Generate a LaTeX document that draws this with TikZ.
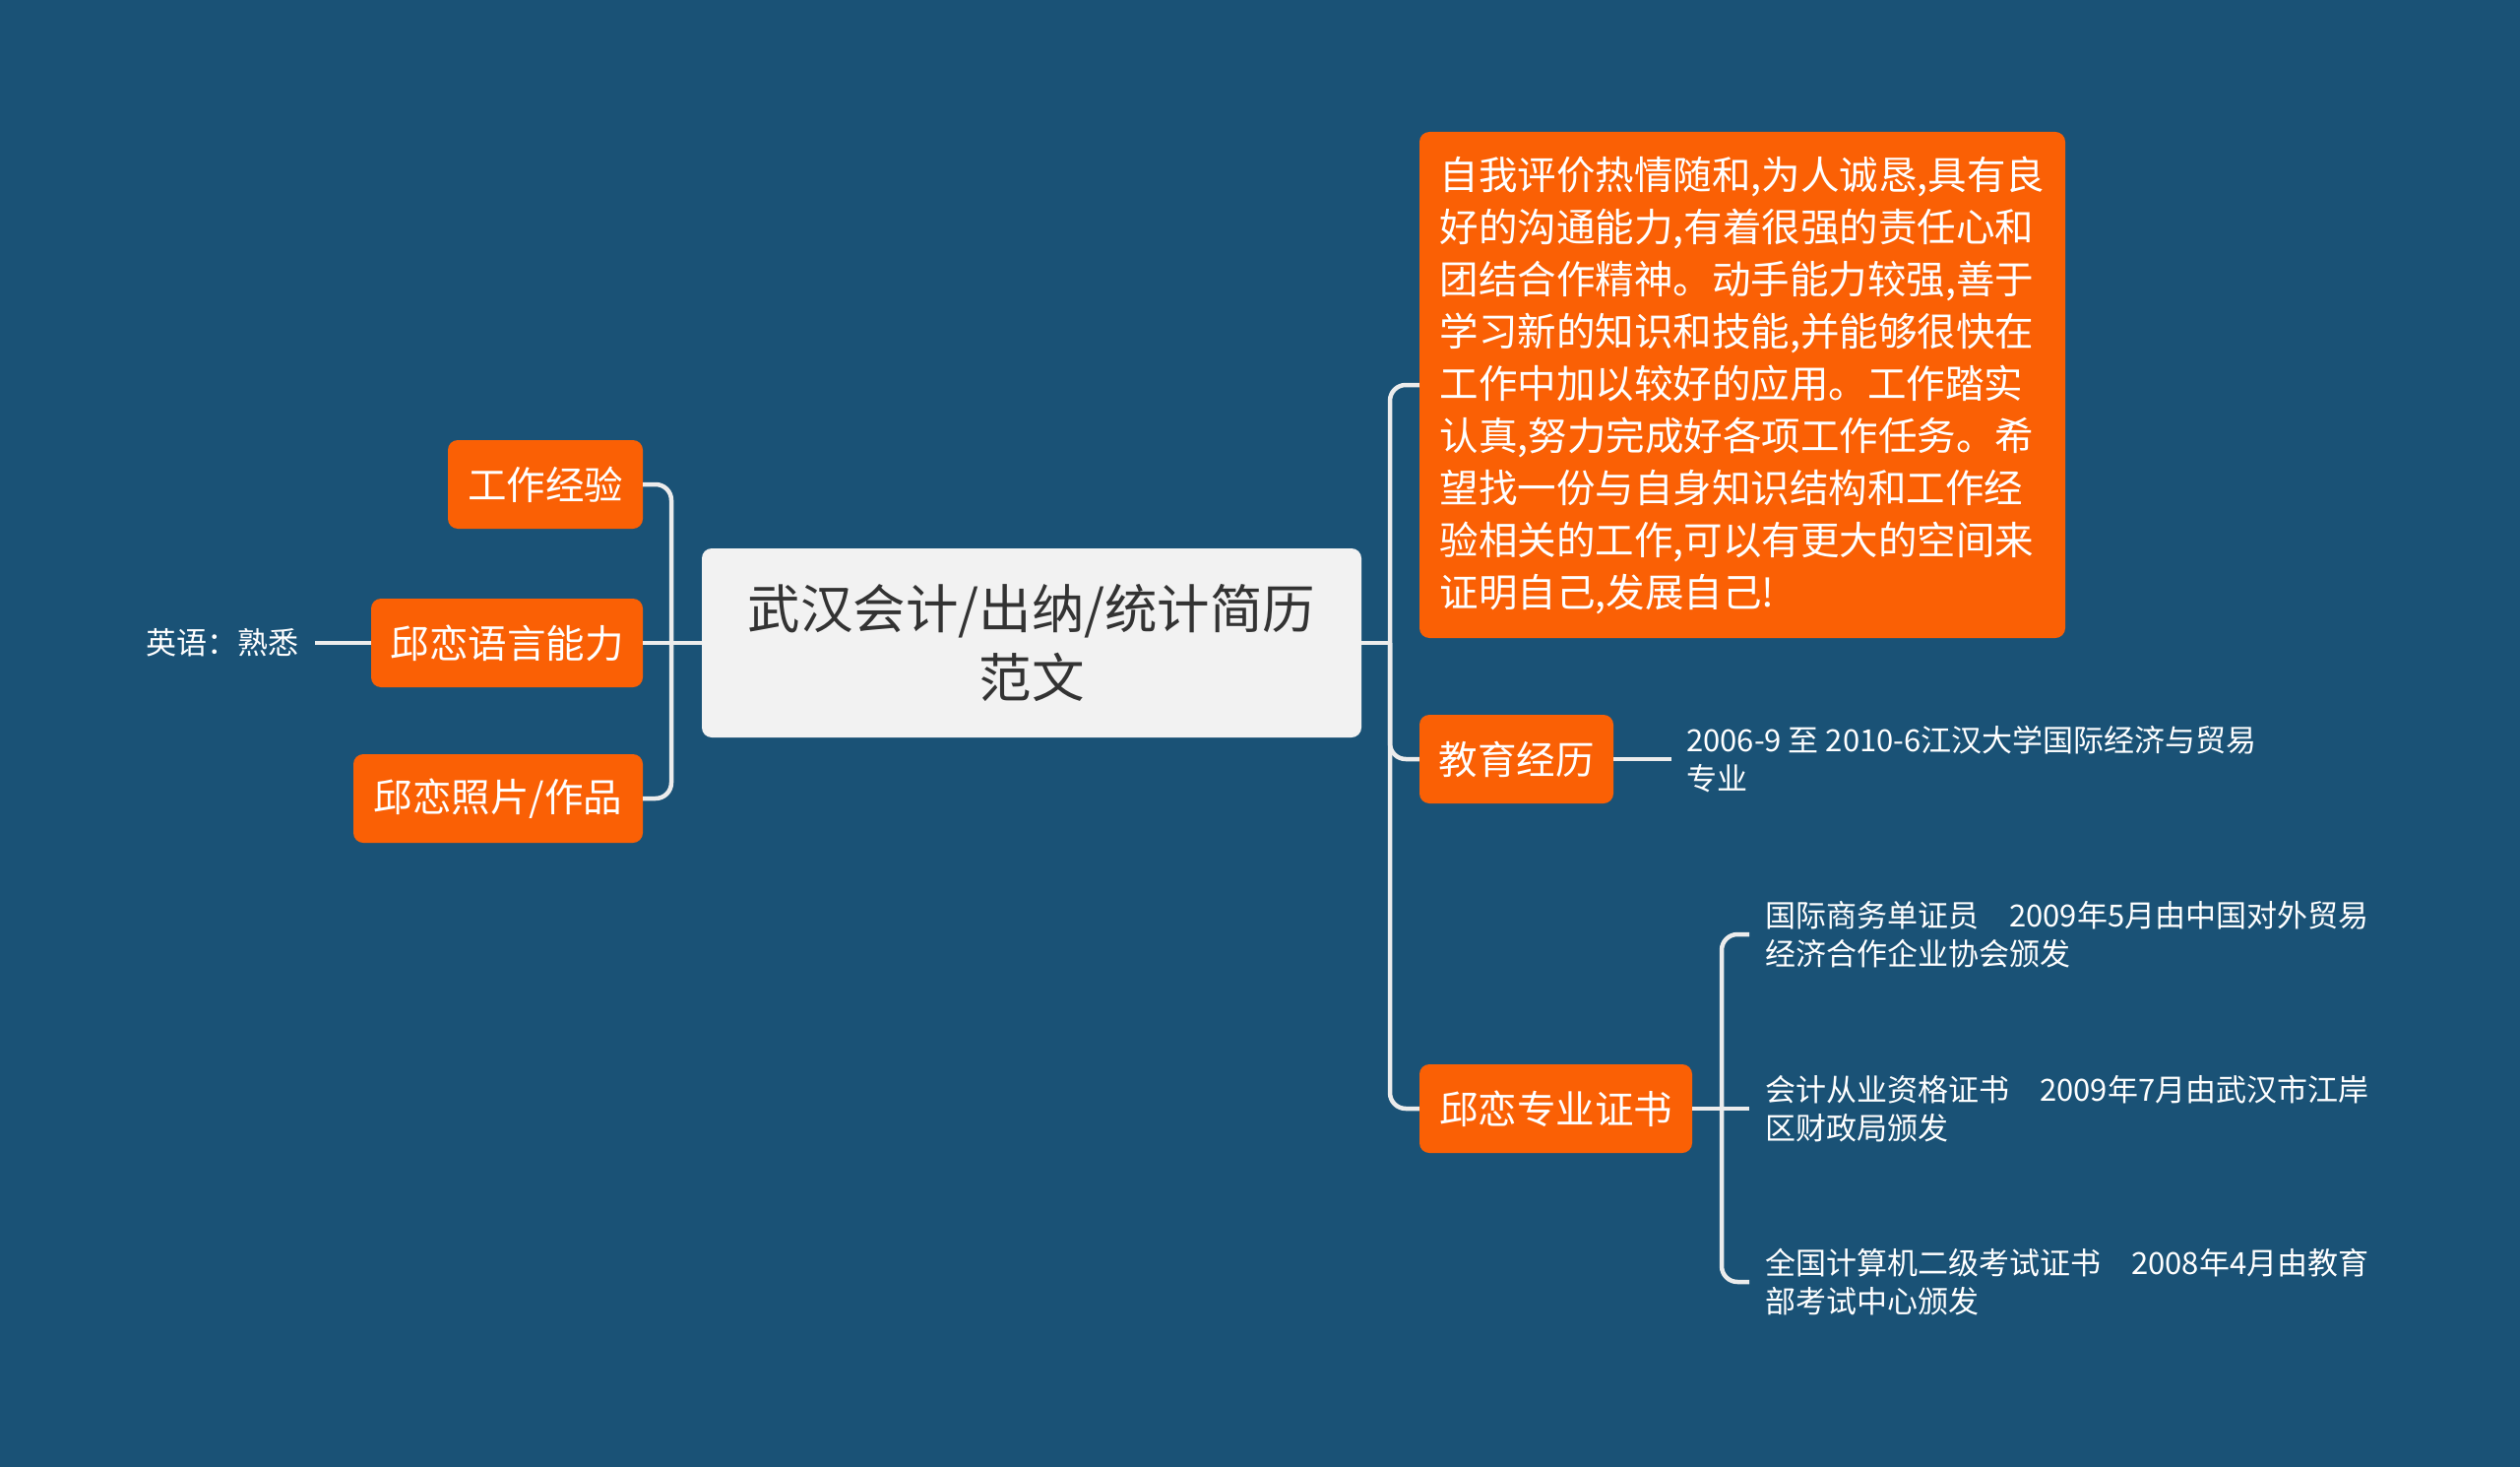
\documentclass[tikz,border=0pt]{standalone}
\usepackage{fontspec}
\setmainfont{Noto Sans CJK SC}
\definecolor{bg}{RGB}{26,82,118}
\definecolor{orng}{RGB}{250,96,5}
\definecolor{rootfill}{RGB}{242,242,242}
\definecolor{roottext}{RGB}{51,51,51}
\definecolor{linec}{RGB}{236,236,236}
\begin{document}
\begin{tikzpicture}[x=1pt,y=-1pt,
  obox/.style={fill=orng, rounded corners=10pt, text=white, font=\fontsize{39.5}{53}\selectfont, minimum height=90pt, inner sep=0pt, align=center},
  rootbox/.style={fill=rootfill, rounded corners=10pt, text=roottext, font=\fontsize{53.5}{70}\selectfont, minimum width=670pt, minimum height=192pt, inner sep=0pt, align=center},
  leaf/.style={text=white, font=\fontsize{31}{39}\selectfont, align=left, inner ysep=0pt, inner xsep=16pt},
  conn/.style={draw=linec, line width=4.5pt},
  rconn/.style={conn, rounded corners=16pt}]
\useasboundingbox[fill=bg] (0,0) rectangle (2560,1490);

% nodes
\node[rootbox] (root) at (1048,653) {武汉会计/出纳/统计简历\\范文};

\node[obox, minimum width=198pt] (work) at (554,492) {工作经验};
\node[obox, minimum width=276pt] (lang) at (515,653) {邱恋语言能力};
\node[obox, minimum width=294pt] (photo) at (506,811) {邱恋照片/作品};
\node[leaf, anchor=east] (eng) at (320,653) {英语：熟悉};

\node[obox, minimum width=656pt, minimum height=514pt, align=left] (self) at (1770,391) {自我评价热情随和,为人诚恳,具有良\\好的沟通能力,有着很强的责任心和\\团结合作精神。动手能力较强,善于\\学习新的知识和技能,并能够很快在\\工作中加以较好的应用。工作踏实\\认真,努力完成好各项工作任务。希\\望找一份与自身知识结构和工作经\\验相关的工作,可以有更大的空间来\\证明自己,发展自己!};
\node[obox, minimum width=197pt] (edu) at (1540.5,771) {教育经历};
\node[obox, minimum width=277pt] (cert) at (1580.5,1126) {邱恋专业证书};

\node[leaf, anchor=west, inner xsep=15pt] (edut) at (1698,771) {2006-9 至 2010-6江汉大学国际经济与贸易\\专业};
\node[leaf, anchor=west] (c1) at (1777,949) {国际商务单证员　2009年5月由中国对外贸易\\经济合作企业协会颁发};
\node[leaf, anchor=west] (c2) at (1777,1126) {会计从业资格证书　2009年7月由武汉市江岸\\区财政局颁发};
\node[leaf, anchor=west] (c3) at (1777,1302) {全国计算机二级考试证书　2008年4月由教育\\部考试中心颁发};

% junction coordinates
\coordinate (lj) at (682,653);
\coordinate (rj) at (1412,653);
\coordinate (cj) at (1749,1126);

% connectors
\draw[conn] (root.west) -- (lang.east);
\draw[rconn] (lj) |- (work.east);
\draw[rconn] (lj) |- (photo.east);
\draw[conn] (lang.west) -- (eng.east);

\draw[conn] (root.east) -- (rj);
\draw[rconn] (rj) |- (self.west);
\draw[rconn] (rj) |- (edu.west);
\draw[rconn] (rj) |- (cert.west);
\draw[conn] (edu.east) -- (edut.west);

\draw[conn] (cert.east) -- (c2.west);
\draw[rconn] (cj) |- (c1.west);
\draw[rconn] (cj) |- (c3.west);
\end{tikzpicture}
\end{document}
